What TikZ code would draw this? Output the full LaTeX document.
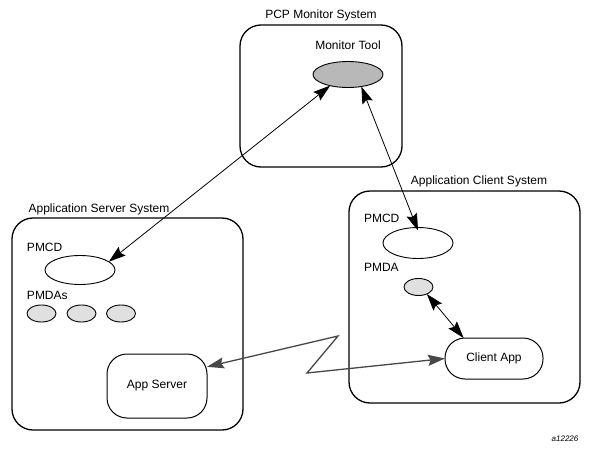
\documentclass[tikz,border=0pt]{standalone}
\usepackage{fontspec}
\setmainfont{Liberation Sans}
\usetikzlibrary{shapes.geometric,arrows.meta}
\begin{document}
\begin{tikzpicture}[x=1pt,y=-1pt,
  every node/.style={inner sep=0pt,outer sep=0pt,font=\fontsize{12}{14}\selectfont},
  sysbox/.style={draw,line width=1.3pt,rounded corners=21pt,rectangle},
  lbl/.style={anchor=center},
  lbll/.style={anchor=west},
  bigell/.style={draw,line width=0.9pt,ellipse,minimum width=70pt,minimum height=29pt},
  smell/.style={draw,line width=0.9pt,ellipse,minimum width=29pt,minimum height=17pt,fill=black!12},
  appbox/.style={draw,line width=1pt,rectangle,rounded corners=20pt},
  blk/.style={line width=0.8pt,{Stealth[length=17pt,width=11pt,inset=2.5pt]}-{Stealth[length=17pt,width=11pt,inset=2.5pt]}},
  gry/.style={draw=black!72,line width=1.3pt,{Stealth[length=17pt,width=11pt,inset=2.5pt,fill=black!72]}-{Stealth[length=17pt,width=11pt,inset=2.5pt,fill=black!72]}}
]
\useasboundingbox (0,0) rectangle (592,450);
% system boxes
\node[sysbox,minimum width=162pt,minimum height=142pt] (monsys) at (321,96) {};
\node[sysbox,minimum width=231pt,minimum height=212pt] (srvsys) at (127.5,324) {};
\node[sysbox,minimum width=231pt,minimum height=212pt] (clisys) at (464.5,297) {};
\node[lbl] (monlbl) at (321,15) {PCP Monitor System};
\node[lbl] (srvlbl) at (99,209) {Application Server System};
\node[lbl] (clilbl) at (479,181) {Application Client System};
% monitor
\node[lbl] (montxt) at (348,45) {Monitor Tool};
\node[bigell,fill=black!28,minimum height=26pt] (mon) at (348,74.5) {};
% server
\node[lbll] (spmcdtxt) at (27,247) {PMCD};
\node[bigell] (spmcd) at (80,270) {};
\node[lbll] (spmdatxt) at (27,295) {PMDAs};
\node[smell] (sa) at (41.5,313.5) {};
\node[smell] (sb) at (81.5,313.5) {};
\node[smell] (sc) at (121,313.5) {};
\node[appbox,minimum width=100pt,minimum height=64pt] (appsrv) at (157,386) {App Server};
% client
\node[lbll] (cpmcdtxt) at (364,218) {PMCD};
\node[bigell,minimum height=31pt] (cpmcd) at (418,243) {};
\node[lbll] (cpmdatxt) at (364,267) {PMDA};
\node[smell] (cpmda) at (418.5,287) {};
\node[appbox,minimum width=98pt,minimum height=41pt] (cliapp) at (494,358.5) {Client App};
\node[font=\fontsize{8}{9}\selectfont\itshape] (fig) at (565,439) {a12226};
% connectors
\draw[blk] (spmcd.16) -- (mon.212);
\draw[blk] (mon.318) -- ([yshift=-3pt]cpmcd.north);
\draw[blk] (cpmda.320) -- (cliapp.146);
\coordinate (z1) at (338,336);
\coordinate (z2) at (307,373);
\draw[gry] (appsrv.21) -- (z1) -- (z2) -- (cliapp.west);
\end{tikzpicture}
\end{document}
